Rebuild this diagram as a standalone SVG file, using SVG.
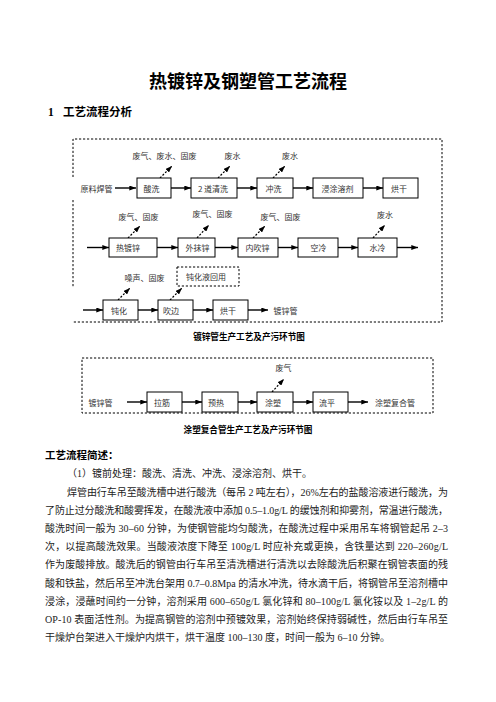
<svg xmlns="http://www.w3.org/2000/svg" width="496" height="702" viewBox="0 0 496 702">
<style>
.bg{fill:#fff}
.box{fill:#fff;stroke:#000;stroke-width:1}
.dbox{fill:none;stroke:#000;stroke-width:1;stroke-dasharray:2.2,1.8}
.lbl{font-family:"Noto Sans CJK SC","Liberation Sans",sans-serif;font-size:8px;fill:#333;text-anchor:middle;dominant-baseline:central}
.flow{stroke:#000;stroke-width:1.4;fill:none}
.emit{stroke:#000;stroke-width:1.2;fill:none;stroke-dasharray:2,1.6}
.cap{font-family:"Noto Sans CJK SC",sans-serif;font-size:8.6px;font-weight:bold;fill:#000;text-anchor:middle}
.body{font-family:"Liberation Serif","Noto Sans CJK SC",serif;font-size:10px;fill:#222}
.h{font-family:"Liberation Serif","Noto Sans CJK SC",serif;font-weight:bold;fill:#000}
</style>
<defs>
<marker id="ah" viewBox="0 0 8 6" refX="8" refY="3" markerWidth="7" markerHeight="5" orient="auto" markerUnits="userSpaceOnUse"><path d="M0,0 L8,3 L0,6 z" fill="#000"/></marker>
</defs>
<rect class="bg" x="0" y="0" width="496" height="702"/>

<text class="h" x="248" y="88" font-size="18" text-anchor="middle">热镀锌及钢塑管工艺流程</text>
<text class="h" x="48" y="116" font-size="11.5">1</text>
<text class="h" x="63" y="116" font-size="11.5">工艺流程分析</text>

<!-- frame 1 -->
<path class="dbox" d="M73,177 V139 H442 V322 H73 M73,200 V288"/>
<!-- frame 2 -->
<rect class="dbox" x="82" y="358" width="351" height="55"/>

<g id="connectors">
<!-- row 1 -->
<line class="flow" x1="115" y1="188" x2="136" y2="188" marker-end="url(#ah)"/>
<line class="flow" x1="171" y1="188" x2="191" y2="188" marker-end="url(#ah)"/>
<line class="flow" x1="237" y1="188" x2="257" y2="188" marker-end="url(#ah)"/>
<line class="flow" x1="293" y1="188" x2="313" y2="188" marker-end="url(#ah)"/>
<line class="flow" x1="363" y1="188" x2="383" y2="188" marker-end="url(#ah)"/>
<line class="emit" x1="160" y1="178" x2="172" y2="166" marker-end="url(#ah)"/>
<line class="emit" x1="218" y1="178" x2="230" y2="166" marker-end="url(#ah)"/>
<line class="emit" x1="273" y1="178" x2="285" y2="166" marker-end="url(#ah)"/>
<!-- row 2 -->
<line class="flow" x1="87" y1="247.5" x2="109" y2="247.5" marker-end="url(#ah)"/>
<line class="flow" x1="157" y1="247.5" x2="178" y2="247.5" marker-end="url(#ah)"/>
<line class="flow" x1="215" y1="247.5" x2="238" y2="247.5" marker-end="url(#ah)"/>
<line class="flow" x1="278" y1="247.5" x2="298" y2="247.5" marker-end="url(#ah)"/>
<line class="flow" x1="338" y1="247.5" x2="358" y2="247.5" marker-end="url(#ah)"/>
<line class="flow" x1="397" y1="247.5" x2="418" y2="247.5" marker-end="url(#ah)"/>
<line class="emit" x1="128" y1="238" x2="140" y2="226" marker-end="url(#ah)"/>
<line class="emit" x1="197" y1="238" x2="209" y2="225" marker-end="url(#ah)"/>
<line class="emit" x1="253" y1="238" x2="265" y2="226" marker-end="url(#ah)"/>
<line class="emit" x1="373" y1="238" x2="385" y2="225" marker-end="url(#ah)"/>
<!-- row 3 -->
<line class="flow" x1="83" y1="310" x2="103" y2="310" marker-end="url(#ah)"/>
<line class="flow" x1="138" y1="310" x2="158" y2="310" marker-end="url(#ah)"/>
<line class="flow" x1="193" y1="310" x2="213" y2="310" marker-end="url(#ah)"/>
<line class="flow" x1="248" y1="310" x2="268" y2="310" marker-end="url(#ah)"/>
<line class="emit" x1="118" y1="300" x2="130" y2="288" marker-end="url(#ah)"/>
<line class="emit" x1="170" y1="300" x2="182" y2="288" marker-end="url(#ah)"/>
<!-- frame 2 row -->
<line class="flow" x1="127" y1="402" x2="147" y2="402" marker-end="url(#ah)"/>
<line class="flow" x1="182" y1="402" x2="202" y2="402" marker-end="url(#ah)"/>
<line class="flow" x1="238" y1="402" x2="257" y2="402" marker-end="url(#ah)"/>
<line class="flow" x1="293" y1="402" x2="313" y2="402" marker-end="url(#ah)"/>
<line class="flow" x1="348" y1="402" x2="368" y2="402" marker-end="url(#ah)"/>
<line class="emit" x1="272" y1="392" x2="284" y2="379" marker-end="url(#ah)"/>
</g>

<!-- emission labels -->
<g id="emissions">
<text class="lbl" x="164.5" y="155">废气、废水、固废</text>
<text class="lbl" x="232.5" y="155">废水</text>
<text class="lbl" x="290" y="155">废水</text>
<text class="lbl" x="138.5" y="216">废气、固废</text>
<text class="lbl" x="212.5" y="213">废气、固废</text>
<text class="lbl" x="280.5" y="216">废气、固废</text>
<text class="lbl" x="385" y="214">废水</text>
<text class="lbl" x="144.5" y="277">噪声、固废</text>
<text class="lbl" x="283.5" y="367">废气</text>
</g>

<g id="n-raw"><text class="lbl" x="96.5" y="188">原料焊管</text></g>
<g id="n-pickling"><rect class="box" x="137" y="178" width="34" height="20"/><text class="lbl" x="151.5" y="188">酸洗</text></g>
<g id="n-rinse2"><rect class="box" x="191" y="178" width="46" height="20"/><text class="lbl" x="213" y="188">2 道清洗</text></g>
<g id="n-flush"><rect class="box" x="257" y="178" width="36" height="20"/><text class="lbl" x="273.5" y="188">冲洗</text></g>
<g id="n-flux"><rect class="box" x="313" y="178" width="50" height="20"/><text class="lbl" x="337.5" y="188">浸涂溶剂</text></g>
<g id="n-dry1"><rect class="box" x="383" y="178" width="35" height="20"/><text class="lbl" x="399" y="188">烘干</text></g>

<g id="n-hotdip"><rect class="box" x="109" y="238" width="48" height="19"/><text class="lbl" x="128" y="247.5">热镀锌</text></g>
<g id="n-outer"><rect class="box" x="178" y="238" width="37" height="19"/><text class="lbl" x="197.5" y="247.5">外抹锌</text></g>
<g id="n-inner"><rect class="box" x="238" y="238" width="40" height="19"/><text class="lbl" x="257.5" y="247.5">内吹锌</text></g>
<g id="n-aircool"><rect class="box" x="298" y="238" width="40" height="19"/><text class="lbl" x="318.5" y="247.5">空冷</text></g>
<g id="n-watercool"><rect class="box" x="358" y="238" width="39" height="19"/><text class="lbl" x="377.5" y="247.5">水冷</text></g>

<g id="n-passiv"><rect class="box" x="103" y="300" width="35" height="20"/><text class="lbl" x="119" y="310">钝化</text></g>
<g id="n-blow"><rect class="box" x="158" y="300" width="35" height="20"/><text class="lbl" x="171" y="310">吹边</text></g>
<g id="n-dry2"><rect class="box" x="213" y="300" width="35" height="20"/><text class="lbl" x="228" y="310">烘干</text></g>
<g id="n-galv"><text class="lbl" x="285.5" y="310">镀锌管</text></g>
<g id="n-recycle"><rect class="dbox" x="177" y="267" width="62" height="19"/><text class="lbl" x="206" y="276.5">钝化液回用</text></g>

<text class="cap" x="249" y="340">镀锌管生产工艺及产污环节图</text>

<g id="n-galv2"><text class="lbl" x="100.5" y="402">镀锌管</text></g>
<g id="n-rib"><rect class="box" x="147" y="392" width="35" height="20"/><text class="lbl" x="162" y="402">拉筋</text></g>
<g id="n-preheat"><rect class="box" x="202" y="392" width="36" height="20"/><text class="lbl" x="216" y="402">预热</text></g>
<g id="n-coat"><rect class="box" x="257" y="392" width="36" height="20"/><text class="lbl" x="273" y="402">涂塑</text></g>
<g id="n-level"><rect class="box" x="313" y="392" width="35" height="20"/><text class="lbl" x="327" y="402">流平</text></g>
<g id="n-composite"><text class="lbl" x="395" y="402.5">涂塑复合管</text></g>

<text class="cap" x="248" y="433">涂塑复合管生产工艺及产污环节图</text>

<text class="h" x="45" y="458.5" font-size="10.5">工艺流程简述：</text>
<text class="body" x="67" y="477">（1）镀前处理：酸洗、清洗、冲洗、浸涂溶剂、烘干。</text>
<text class="body" x="67" y="495.5" textLength="381" lengthAdjust="spacing">焊管由行车吊至酸洗槽中进行酸洗（每吊 2 吨左右），26%左右的盐酸溶液进行酸洗，为</text>
<text class="body" x="45" y="513.7" textLength="403" lengthAdjust="spacing">了防止过分酸洗和酸雾挥发，在酸洗液中添加 0.5–1.0g/L 的缓蚀剂和抑雾剂，常温进行酸洗，</text>
<text class="body" x="45" y="531.9" textLength="403" lengthAdjust="spacing">酸洗时间一般为 30–60 分钟，为使钢管能均匀酸洗，在酸洗过程中采用吊车将钢管起吊 2–3</text>
<text class="body" x="45" y="550.1" textLength="403" lengthAdjust="spacing">次，以提高酸洗效果。当酸液浓度下降至 100g/L 时应补充或更换，含铁量达到 220–260g/L</text>
<text class="body" x="45" y="568.3" textLength="403" lengthAdjust="spacing">作为废酸排放。酸洗后的钢管由行车吊至清洗槽进行清洗以去除酸洗后积聚在钢管表面的残</text>
<text class="body" x="45" y="586.5" textLength="403" lengthAdjust="spacing">酸和铁盐，然后吊至冲洗台架用 0.7–0.8Mpa 的清水冲洗，待水滴干后，将钢管吊至溶剂槽中</text>
<text class="body" x="45" y="604.7" textLength="403" lengthAdjust="spacing">浸涂，浸蘸时间约一分钟，溶剂采用 600–650g/L 氯化锌和 80–100g/L 氯化铵以及 1–2g/L 的</text>
<text class="body" x="45" y="622.9" textLength="403" lengthAdjust="spacing">OP-10 表面活性剂。为提高钢管的溶剂中预镀效果，溶剂始终保持弱碱性，然后由行车吊至</text>
<text class="body" x="45" y="641.1">干燥炉台架进入干燥炉内烘干，烘干温度 100–130 度，时间一般为 6–10 分钟。</text>
</svg>
